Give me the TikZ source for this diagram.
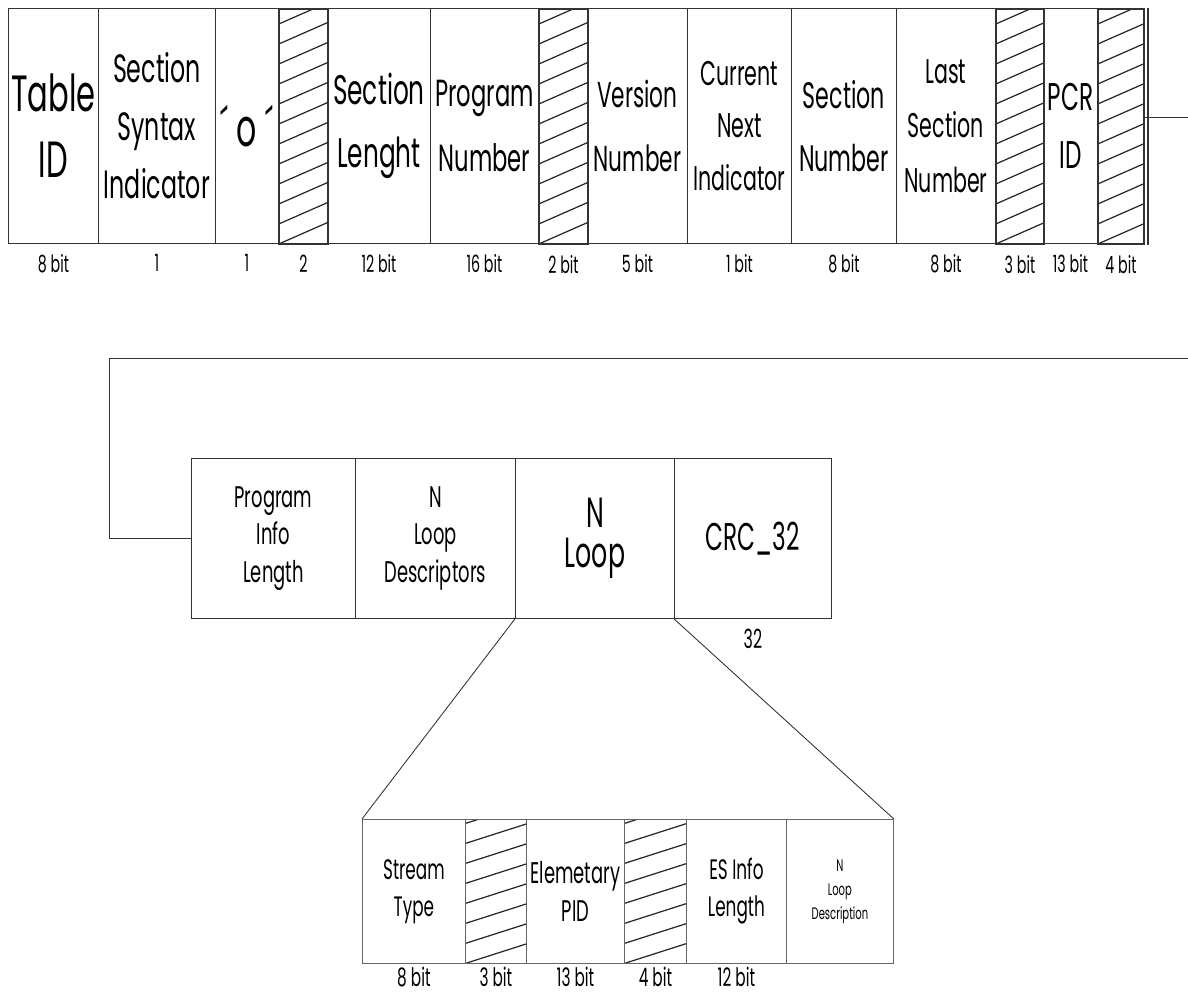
\documentclass[tikz,border=0pt]{standalone}
\usepackage{fontspec}
\setmainfont[FakeStretch=0.6]{Poppins}
\usetikzlibrary{positioning, calc}

\newcommand{\fsz}[2]{\fontsize{#1}{#2}\selectfont}

\begin{document}
\begin{tikzpicture}[
    x=0.02cm, y=-0.02cm,
    field/.style={draw=black!80, line width=0.5pt, anchor=north west, inner sep=0pt, align=center},
    hatch/.style={path picture={
        \foreach \k in {0,...,14}
          \draw[line width=0.7pt, black!85] ($(path picture bounding box.south west)+(0,\k*0.4cm)$) -- ++(3cm,#1);
      }},
    resv/.style={field, line width=1.1pt, hatch=1.32cm},
    lowfield/.style={field, draw=black!60},
    bits/.style={font=\fsz{13.5}{14}, inner sep=0pt},
    link/.style={line width=0.5pt, black!80},
]
\useasboundingbox (0,0) rectangle (1188,996);

% Table header fields
\foreach \nm/\xa/\xb/\fa/\fb/\txt in {
    tid/8/98/29/37.5/{Table\\ID},
    ssi/98/215/22.5/33/{Section\\Syntax\\Indicator},
    zro/215/278/30/30/{´\,o\,´},
    slen/327/430/23.5/36/{Section\\Lenght},
    pnum/430/538/21.5/37/{Program\\Number},
    vnum/587/687/20.5/36/{Version\\Number},
    cni/687/791/19.5/30/{Current\\Next\\Indicator},
    snum/791/896/21/36/{Section\\Number},
    lsn/896/995/19.5/31/{Last\\Section\\Number},
    pcr/1043/1097/22/33/{PCR\\ID}} {
    \node[field, minimum width={(\xb-\xa)*0.02cm}, minimum height=4.7cm,
      font=\fsz{\fa}{\fb}] (\nm) at (\xa,8) {\txt};
}

% Reserved bits
\foreach \nm/\xa/\xb in {res1/278/327, res2/538/587, res3/995/1043, res4/1097/1143} {
    \node[resv, minimum width={(\xb-\xa)*0.02cm}, minimum height=4.7cm] (\nm) at (\xa,8) {};
}
\draw[line width=0.8pt, black!80] ([xshift=0.06cm]res4.north east) -- ([xshift=0.06cm]res4.south east);

% Bit widths
\foreach \nm/\txt in {tid/8 bit, ssi/1, zro/1, res1/2, slen/12 bit, pnum/16 bit, res2/2 bit,
    vnum/5 bit, cni/1 bit, snum/8 bit, lsn/8 bit, res3/3 bit, pcr/13 bit, res4/4 bit} {
    \node[bits, below=0.2cm of \nm] (b\nm) {\txt};
}

% Second part
\node[field, minimum width=3.28cm, minimum height=3.2cm, font=\fsz{17}{21.5}] (pil) at (191,458) {Program\\Info\\Length};
\node[field, minimum width=3.2cm, minimum height=3.2cm, font=\fsz{17}{21.5}] (nld) at (355,458) {N\\Loop\\Descriptors};
\node[field, minimum width=3.18cm, minimum height=3.2cm, font=\fsz{24}{23}] (nloop) at (515,458) {N\\Loop};
\node[field, minimum width=3.14cm, minimum height=3.2cm, font=\fsz{22}{22}] (crc) at (674,458) {CRC\_32};
\node[bits, font=\fsz{15}{16}, below=0.2cm of crc] (bcrc) {32};

% Connectors
\coordinate (outR) at (1188,117);
\coordinate (backR) at (1188,358);
\coordinate (bendL) at (109,358);
\draw[link] (res4.east |- outR) -- (outR);
\draw[link] (backR) -- (bendL) |- (pil.west);

% Loop fields
\node[lowfield, minimum width=2.06cm, minimum height=2.88cm, font=\fsz{16}{21}] (stype) at (362,819) {Stream\\Type};
\node[lowfield, hatch=0.96cm, minimum width=1.22cm, minimum height=2.88cm] (bres1) at (465,819) {};
\node[lowfield, minimum width=1.96cm, minimum height=2.88cm, font=\fsz{17}{22}] (epid) at (526,819) {Elemetary\\PID};
\node[lowfield, hatch=0.96cm, minimum width=1.24cm, minimum height=2.88cm] (bres2) at (624,819) {};
\node[lowfield, minimum width=2cm, minimum height=2.88cm, font=\fsz{16}{21}] (esil) at (686,819) {ES Info\\Length};
\node[lowfield, minimum width=2.14cm, minimum height=2.88cm, font=\fsz{9.5}{13.7}] (ndesc) at (786,819) {N\\Loop\\Description};

\foreach \nm/\txt in {stype/8 bit, bres1/3 bit, epid/13 bit, bres2/4 bit, esil/12 bit} {
    \node[bits, font=\fsz{14.5}{15}, below=0.05cm of \nm] (b\nm) {\txt};
}

\draw[link] (nloop.south west) -- (stype.north west);
\draw[link] (crc.south west) -- (ndesc.north east);

\end{tikzpicture}
\end{document}
